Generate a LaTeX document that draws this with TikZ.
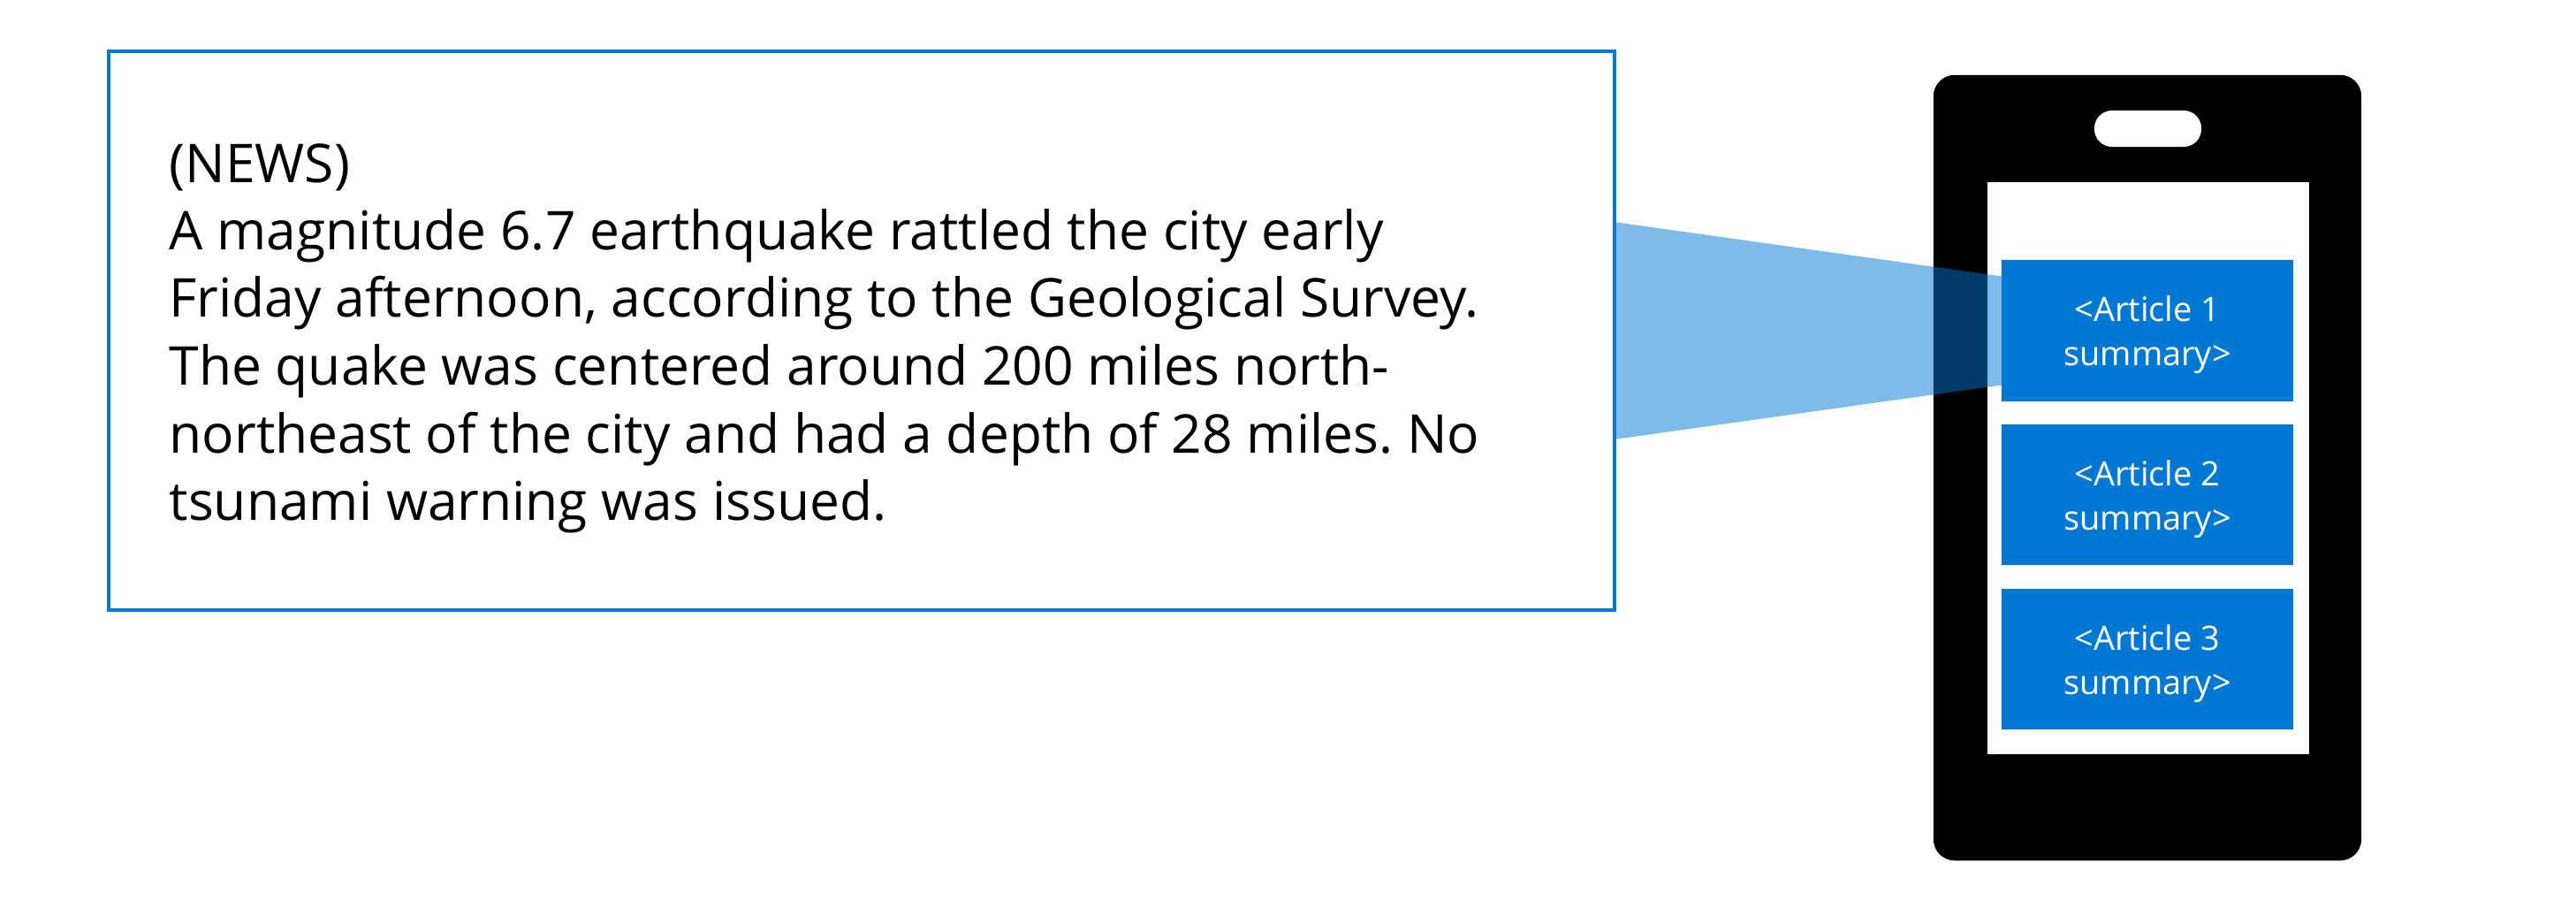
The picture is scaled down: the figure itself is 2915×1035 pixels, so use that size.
\documentclass[tikz,border=0pt]{standalone}
\usepackage{fontspec}
\setmainfont{Open Sans}
\usetikzlibrary{calc}
\definecolor{msblue}{HTML}{0078D4}
\begin{document}
\frenchspacing
\begin{tikzpicture}[x=0.01cm,y=-0.01cm,
  newsline/.style={anchor=base west,inner sep=0,font=\fontsize{17.2}{20}\selectfont},
  articlebox/.style={fill=msblue,minimum width=3.30cm,minimum height=1.58cm,inner sep=0,outer sep=0},
  articletext/.style={text=white,inner sep=0,align=center,font=\fontsize{10.8}{14.2}\selectfont}]
\useasboundingbox (0,0) rectangle (2915,1035);
% news box
\node[draw=msblue,line width=0.04cm,minimum width=17.03cm,minimum height=6.32cm,inner sep=0,outer sep=0] (news) at (974.5,374) {};
\node[newsline] (l0) at (191,206) {(NEWS)};
\node[newsline] (l1) at (191,282) {A magnitude 6.7 earthquake rattled the city early};
\node[newsline] (l2) at (191,358) {Friday afternoon, according to the Geological Survey.};
\node[newsline] (l3) at (191,435) {The quake was centered around 200 miles north-};
\node[newsline] (l4) at (191,512) {northeast of the city and had a depth of 28 miles. No};
\node[newsline] (l5) at (191,588) {tsunami warning was issued.};
% phone
\node[fill=black,rounded corners=0.24cm,minimum width=4.84cm,minimum height=8.88cm,inner sep=0] (phone) at (2430,529) {};
\node[fill=white,rounded corners=0.2cm,minimum width=1.21cm,minimum height=0.41cm,inner sep=0] (speaker) at (2430.5,145.5) {};
\node[fill=white,minimum width=3.64cm,minimum height=6.47cm,inner sep=0] (screen) at (2431,529.5) {};
% article positions
\coordinate (a1c) at (2430,374);
% beam
\fill[msblue,opacity=0.5] ($(news.east)+(0,-123)$) -- ($(a1c)+(-165,-61.5)$) -- ($(a1c)+(-165,61.5)$) -- ($(news.east)+(0,123)$) -- cycle;
% articles
\node[articlebox,minimum height=1.60cm] (a1) at (a1c) {};
\node[articlebox] (a2) at (2430,559.5) {};
\node[articlebox] (a3) at (2430,745.5) {};
\node[articletext] (a1t) at ($(a1)+(0,5)$) {<Article 1\\summary>};
\node[articletext] (a2t) at ($(a2)+(0,5)$) {<Article 2\\summary>};
\node[articletext] (a3t) at ($(a3)+(0,5)$) {<Article 3\\summary>};
\end{tikzpicture}
\end{document}
